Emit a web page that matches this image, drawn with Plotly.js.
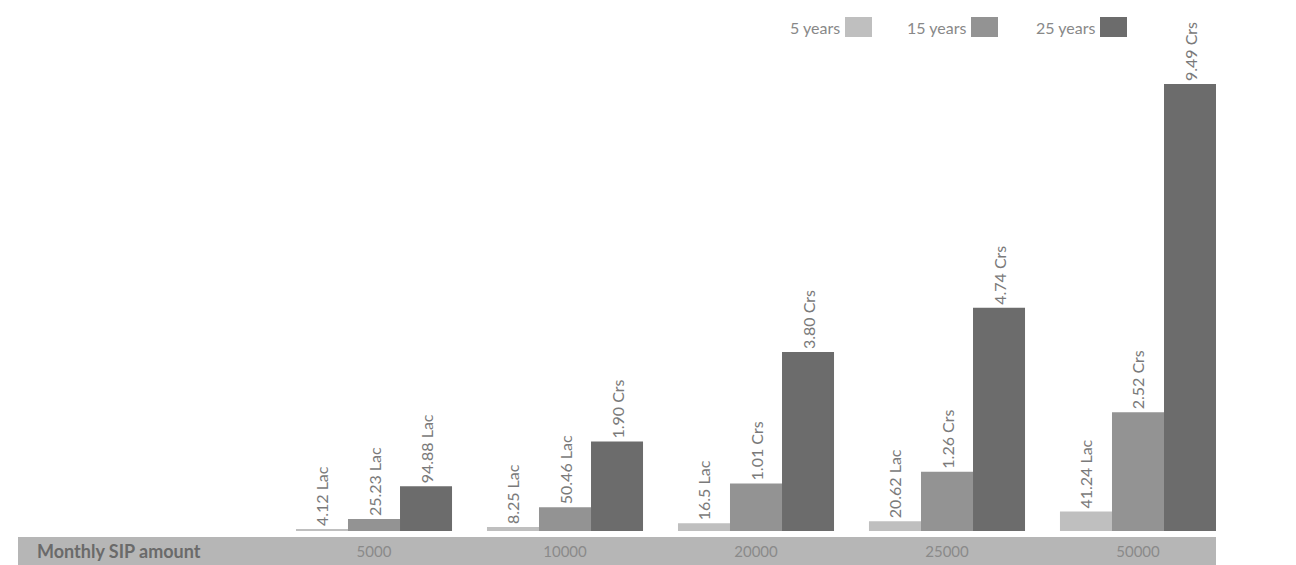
<!DOCTYPE html>
<html>
<head>
<meta charset="utf-8">
<script src="https://cdn.plot.ly/plotly-3.0.1.min.js"></script>
<style>html,body{margin:0;padding:0;background:#fff;}#chart{width:1296px;height:565px;}</style>
</head>
<body>
<div id="chart"></div>
<script>
// Monthly SIP amounts (categories)
const categories = ["5000", "10000", "20000", "25000", "50000"];
// Corpus values in Lac
const years5 = [4.12, 8.25, 16.5, 20.62, 41.24];
const years15 = [25.23, 50.46, 101, 126, 252];
const years25 = [94.88, 190, 380, 474, 949];
// Value labels
const labels5 = ["4.12 Lac", "8.25 Lac", "16.5 Lac", "20.62 Lac", "41.24 Lac"];
const labels15 = ["25.23 Lac", "50.46 Lac", "1.01 Crs", "1.26 Crs", "2.52 Crs"];
const labels25 = ["94.88 Lac", "1.90 Crs", "3.80 Crs", "4.74 Crs", "9.49 Crs"];
const seriesNames = ["5 years", "15 years", "25 years"];

const colors = ["#bfbfbf", "#939393", "#6c6c6c"];
const txtFont = {family: "Lato, sans-serif", size: 16, color: "#7a7a7a"};

function mk(y, t, i) {
  return {
    type: "bar", x: categories, y: y, text: t, name: seriesNames[i],
    textposition: "outside", textangle: -90, constraintext: "none", cliponaxis: false,
    textfont: txtFont, marker: {color: colors[i], line: {width: 0}},
    hoverinfo: "x+text", showlegend: false
  };
}

const data = [mk(years5, labels5, 0), mk(years15, labels15, 1), mk(years25, labels25, 2)];

const plotH = 511;
const annotations = [
  {xref: "paper", yref: "paper", x: 17/1198, y: -20/plotH, xanchor: "left", yanchor: "middle",
   text: "<b>Monthly SIP amount</b>", showarrow: false,
   font: {family: "Lato, sans-serif", size: 18, color: "#6a6a6a"}}
];
const shapes = [
  {type: "rect", xref: "paper", yref: "paper", x0: 0, x1: 1, y0: -6/plotH, y1: -40/plotH,
   fillcolor: "#b6b6b6", line: {width: 0}, layer: "below"}
];
// legend: text then swatch
const legX = [842, 968, 1097];
seriesNames.forEach((n, i) => {
  const px = legX[i];
  annotations.push({xref: "paper", yref: "paper", x: (px - 18)/1198, y: (531 - 27)/plotH,
    xanchor: "right", yanchor: "middle", text: n, showarrow: false,
    font: {family: "Lato, sans-serif", size: 16, color: "#888888"}});
  shapes.push({type: "rect", xref: "paper", yref: "paper",
    x0: (px + 3 - 18)/1198, x1: (px + 30 - 18)/1198,
    y0: (531 - 17)/plotH, y1: (531 - 37)/plotH,
    fillcolor: colors[i], line: {width: 0}});
});

const layout = {
  width: 1296, height: 565,
  margin: {l: 18, r: 80, t: 20, b: 34},
  paper_bgcolor: "#ffffff", plot_bgcolor: "#ffffff",
  barmode: "group", bargap: 0.183, bargroupgap: 0,
  xaxis: {type: "category", range: [-1.8639, 4.4084], showgrid: false, zeroline: false,
    showline: false, ticks: "", ticklabelstandoff: 10,
    tickfont: {family: "Lato, sans-serif", size: 15, color: "#8a8a8a"}, fixedrange: true},
  yaxis: {range: [0, 1085], visible: false, showgrid: false, zeroline: false, fixedrange: true},
  annotations: annotations, shapes: shapes, showlegend: false
};

Plotly.newPlot("chart", data, layout, {displayModeBar: false, staticPlot: true});
</script>
</body>
</html>
